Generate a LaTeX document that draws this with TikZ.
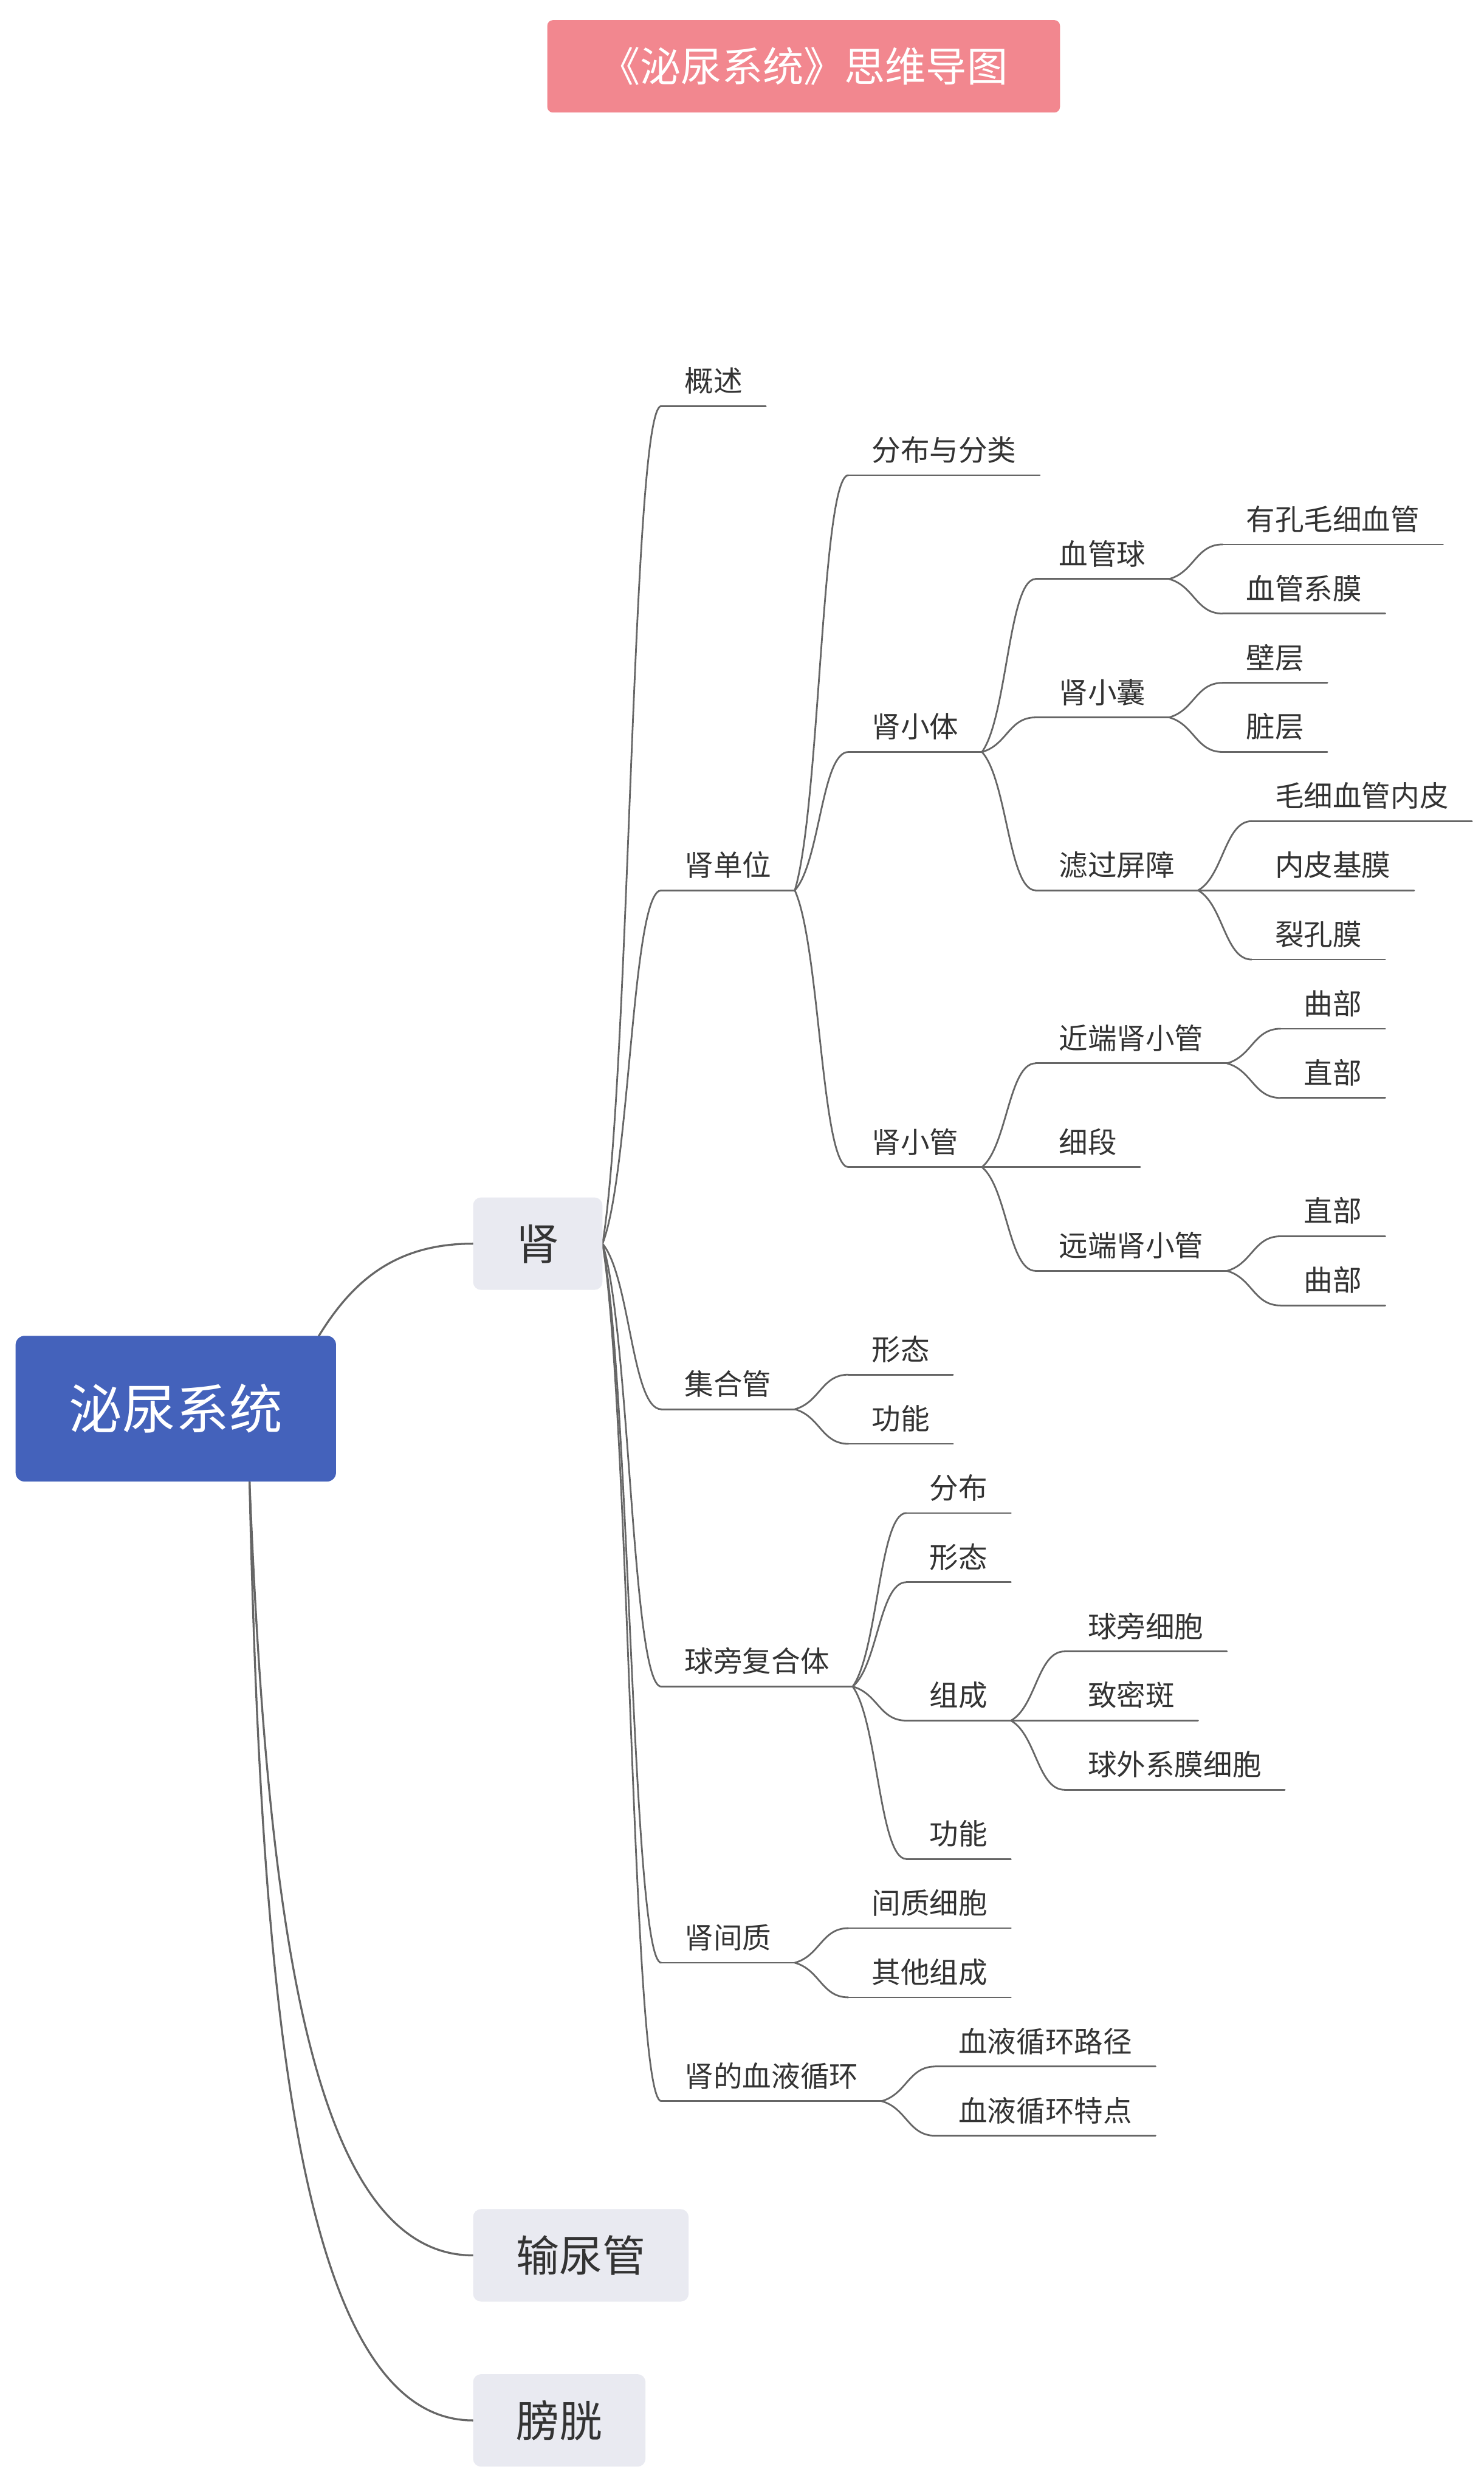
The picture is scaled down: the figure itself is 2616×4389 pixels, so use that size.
\documentclass[tikz,border=0pt]{standalone}
\usepackage{fontspec}
\newfontfamily\cjk{Noto Sans CJK SC}
\usetikzlibrary{calc,backgrounds}
\definecolor{linec}{HTML}{666666}
\definecolor{txtc}{HTML}{333333}
\definecolor{rootc}{HTML}{4462BB}
\definecolor{mainc}{HTML}{E9EAF1}
\definecolor{titlec}{HTML}{F2878F}
\tikzset{
  conn/.style={draw=linec, line width=3pt, line cap=round},
  rootconn/.style={draw=linec, line width=3.5pt, line cap=round},
  leaf/.style={anchor=south west, inner xsep=41pt, inner ysep=0pt,
    text height=45pt, text depth=25pt, text=txtc,
    font=\cjk\fontsize{51}{51}\selectfont},
  mainbox/.style={anchor=west, fill=mainc, rounded corners=14pt, inner xsep=76pt,
    inner ysep=0pt, minimum height=163pt, text height=64pt, text depth=6pt,
    text=txtc, font=\cjk\fontsize{76}{76}\selectfont},
  rootbox/.style={fill=rootc, rounded corners=16pt, minimum width=565pt,
    minimum height=257pt, inner sep=0pt, text height=80pt, text depth=8pt,
    text=white, font=\cjk\fontsize{94}{94}\selectfont},
  titlebox/.style={fill=titlec, rounded corners=10pt, minimum width=904pt,
    minimum height=163pt, inner sep=0pt, text height=62pt, text depth=7pt,
    text=white, font=\cjk\fontsize{72}{72}\selectfont}
}
\newcommand\mmconn[2]{\draw[conn] let \p1=(#1), \p2=(#2) in (\p1) .. controls ({\x1+0.47*(\x2-\x1)},{\y1+0.2*(\y2-\y1)}) and ({\x1+0.5*(\x2-\x1)},\y2) .. (\p2);}
\begin{document}
\begin{tikzpicture}[x=1pt,y=-1pt]
\useasboundingbox (0,0) rectangle (2616,4389);

% title and main nodes
\node[titlebox] (title) at (1417,117) {《泌尿系统》思维导图};
\node[rootbox] (root) at (310,2484) {泌尿系统};
\node[mainbox] (shen) at (834,2193) {肾};
\node[mainbox] (ureter) at (834,3977) {输尿管};
\node[mainbox] (bladder) at (834,4268) {膀胱};
\coordinate (rtop) at (562,2356);
\coordinate (rbot) at (440,2613);

% level A
\node[leaf] (a1) at (1166,716) {概述};
\node[leaf] (a2) at (1166,1570) {肾单位};
\node[leaf] (a3) at (1166,2485) {集合管};
\node[leaf] (a4) at (1166,2974) {球旁复合体};
\node[leaf] (a5) at (1166,3461) {肾间质};
\node[leaf] (a6) at (1166,3705) {肾的血液循环};

% level B
\node[leaf] (b1) at (1496,838) {分布与分类};
\node[leaf] (b2) at (1496,1326) {肾小体};
\node[leaf] (b3) at (1496,2058) {肾小管};
\node[leaf] (b4) at (1496,2424) {形态};
\node[leaf] (b5) at (1496,2546) {功能};
\node[leaf] (b6) at (1598,2668) {分布};
\node[leaf] (b7) at (1598,2790) {形态};
\node[leaf] (b8) at (1598,3034) {组成};
\node[leaf] (b9) at (1598,3278) {功能};
\node[leaf] (b10) at (1496,3400) {间质细胞};
\node[leaf] (b11) at (1496,3522) {其他组成};
\node[leaf] (b12) at (1649,3644) {血液循环路径};
\node[leaf] (b13) at (1649,3766) {血液循环特点};

% level C
\node[leaf] (c1) at (1826,1021) {血管球};
\node[leaf] (c2) at (1826,1265) {肾小囊};
\node[leaf] (c3) at (1826,1570) {滤过屏障};
\node[leaf] (c4) at (1826,1875) {近端肾小管};
\node[leaf] (c5) at (1826,2058) {细段};
\node[leaf] (c6) at (1826,2241) {远端肾小管};
\node[leaf] (c7) at (1877,2912) {球旁细胞};
\node[leaf] (c8) at (1877,3034) {致密斑};
\node[leaf] (c9) at (1877,3156) {球外系膜细胞};

% level D
\node[leaf] (d1) at (2156,960) {有孔毛细血管};
\node[leaf] (d2) at (2156,1082) {血管系膜};
\node[leaf] (d3) at (2156,1204) {壁层};
\node[leaf] (d4) at (2156,1326) {脏层};
\node[leaf] (d5) at (2207,1448) {毛细血管内皮};
\node[leaf] (d6) at (2207,1570) {内皮基膜};
\node[leaf] (d7) at (2207,1692) {裂孔膜};
\node[leaf] (d8) at (2258,1814) {曲部};
\node[leaf] (d9) at (2258,1936) {直部};
\node[leaf] (d10) at (2258,2180) {直部};
\node[leaf] (d11) at (2258,2302) {曲部};

\begin{scope}[on background layer]
  \fill[white] (0,0) rectangle (2616,4389);
  % root connectors
  \draw[rootconn] (rtop) .. controls (622,2258) and (698,2193) .. (shen.west);
  \draw[rootconn] (rbot) .. controls (470,3350) and (540,3977) .. (ureter.west);
  \draw[rootconn] (rbot) .. controls (460,3500) and (520,4268) .. (bladder.west);
  % underlines
  \foreach \k in {a1,a2,a3,a4,a5,a6,b1,b2,b3,b4,b5,b6,b7,b8,b9,b10,b11,b12,b13,c1,c2,c3,c4,c5,c6,c7,c8,c9,d1,d2,d3,d4,d5,d6,d7,d8,d9,d10,d11}{\draw[conn] (\k.south west) -- (\k.south east);}
  % branches
  \foreach \k in {a1,a2,a3,a4,a5,a6}{\mmconn{shen.east}{\k.south west}}
  \foreach \k in {b1,b2,b3}{\mmconn{a2.south east}{\k.south west}}
  \foreach \k in {b4,b5}{\mmconn{a3.south east}{\k.south west}}
  \foreach \k in {b6,b7,b8,b9}{\mmconn{a4.south east}{\k.south west}}
  \foreach \k in {b10,b11}{\mmconn{a5.south east}{\k.south west}}
  \foreach \k in {b12,b13}{\mmconn{a6.south east}{\k.south west}}
  \foreach \k in {c1,c2,c3}{\mmconn{b2.south east}{\k.south west}}
  \foreach \k in {c4,c5,c6}{\mmconn{b3.south east}{\k.south west}}
  \foreach \k in {c7,c8,c9}{\mmconn{b8.south east}{\k.south west}}
  \foreach \k in {d1,d2}{\mmconn{c1.south east}{\k.south west}}
  \foreach \k in {d3,d4}{\mmconn{c2.south east}{\k.south west}}
  \foreach \k in {d5,d6,d7}{\mmconn{c3.south east}{\k.south west}}
  \foreach \k in {d8,d9}{\mmconn{c4.south east}{\k.south west}}
  \foreach \k in {d10,d11}{\mmconn{c6.south east}{\k.south west}}
\end{scope}
\end{tikzpicture}
\end{document}
